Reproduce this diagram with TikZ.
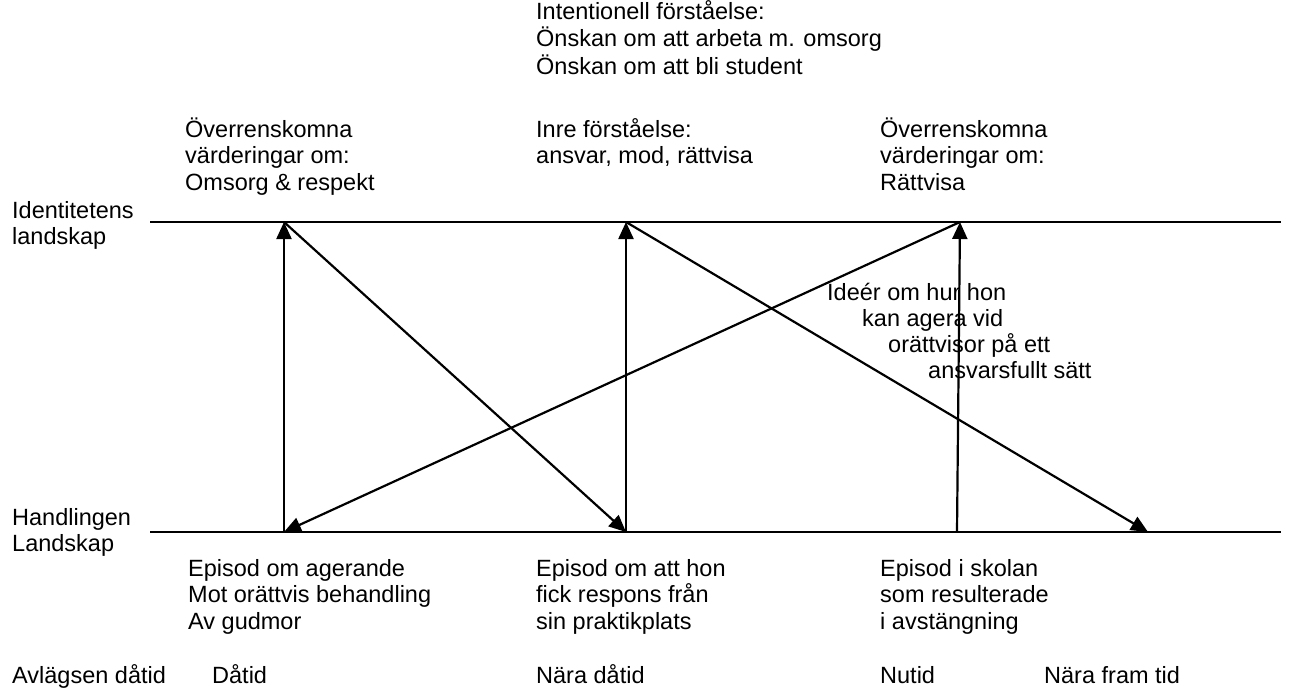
\documentclass[tikz,border=0pt]{standalone}
\usepackage{fontspec}
\setmainfont{Liberation Sans}
\usetikzlibrary{arrows.meta}
\newcommand{\lines}[1]{\begin{tabular}[t]{@{}l@{}}#1\end{tabular}}
\begin{document}
\begin{tikzpicture}[x=1pt,y=-1pt,
  lbl/.style={anchor=base west, inner sep=0pt, font=\fontsize{23.5}{26.5}\selectfont},
  axisline/.style={line width=1.6pt},
  arr/.style={line width=2.2pt, -{Triangle[length=17pt,width=15pt]}}]
\useasboundingbox (0,0) rectangle (1294,694);
% landscape lines
\coordinate (TL) at (150,222);
\coordinate (TR) at (1281,222);
\coordinate (BL) at (150,532);
\coordinate (BR) at (1281,532);
\draw[axisline] (TL) -- (TR);
\draw[axisline] (BL) -- (BR);
% arrow end points
\coordinate (T1) at (284,222);
\coordinate (B1) at (284,532);
\coordinate (T2) at (626,222);
\coordinate (B2) at (626,532);
\coordinate (T3) at (960,222);
\coordinate (B3) at (957,532);
\coordinate (B4) at (1148,532);
\draw[arr] (B1) -- (T1);
\draw[arr] (T1) -- (B2);
\draw[arr] (T3) -- (B1);
\draw[arr] (B2) -- (T2);
\draw[arr] (T2) -- (B4);
\draw[arr] (B3) -- (T3);
% left labels
\node[lbl] (ident) at (12,218) {\lines{Identitetens\\landskap}};
\node[lbl] (handl) at (12,525) {\lines{Handlingen\\Landskap}};
% top texts
\node[lbl] (intent) at (536,19) {\lines{Intentionell förståelse:\\Önskan om att arbeta m. omsorg\\Önskan om att bli student}};
\node[lbl] (val1) at (185,137) {\lines{Överrenskomna\\värderingar om:\\Omsorg \& respekt}};
\node[lbl] (inre) at (536,137) {\lines{Inre förståelse:\\ansvar, mod, rättvisa}};
\node[lbl] (val2) at (880,137) {\lines{Överrenskomna\\värderingar om:\\Rättvisa}};
% ideas
\node[lbl] (idea1) at (827,300) {Ideér om hur hon};
\node[lbl] (idea2) at (862,326) {kan agera vid};
\node[lbl] (idea3) at (888,352) {orättvisor på ett};
\node[lbl] (idea4) at (928,378) {ansvarsfullt sätt};
% bottom episodes
\node[lbl] (ep1) at (188,576) {\lines{Episod om agerande\\Mot orättvis behandling\\Av gudmor}};
\node[lbl] (ep2) at (536,576) {\lines{Episod om att hon\\fick respons från\\sin praktikplats}};
\node[lbl] (ep3) at (880,576) {\lines{Episod i skolan\\som resulterade\\i avstängning}};
% time axis
\node[lbl] (t1) at (12,683) {Avlägsen dåtid};
\node[lbl] (t2) at (212,683) {Dåtid};
\node[lbl] (t3) at (536,683) {Nära dåtid};
\node[lbl] (t4) at (880,683) {Nutid};
\node[lbl] (t5) at (1044,683) {Nära fram tid};
\end{tikzpicture}
\end{document}
